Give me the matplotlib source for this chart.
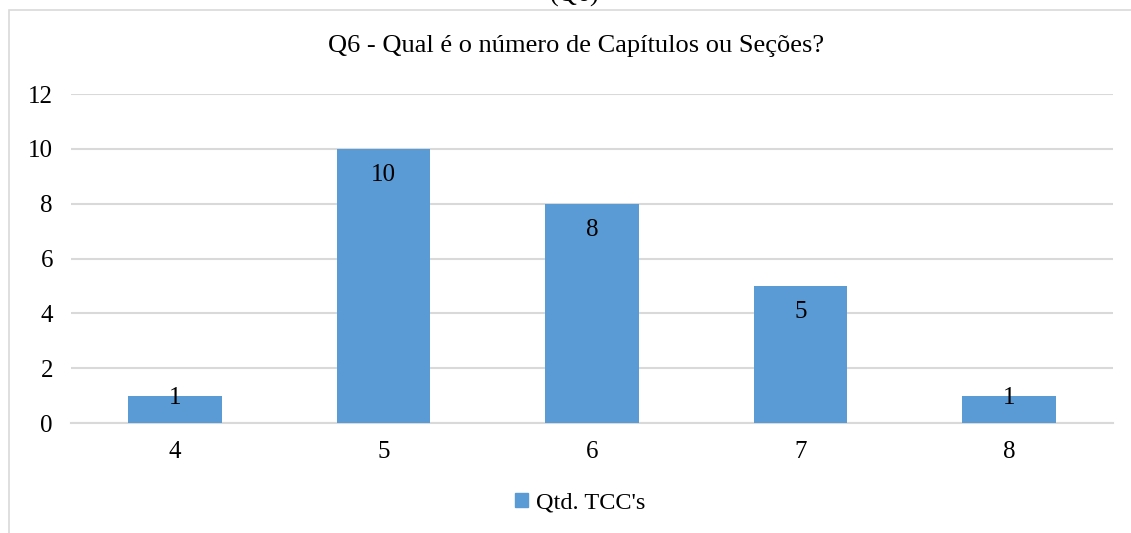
import matplotlib
matplotlib.use('Agg')
import matplotlib.pyplot as plt
from matplotlib.patches import Rectangle

plt.rcParams['font.family'] = ['Liberation Serif', 'DejaVu Serif']

# dados
categorias = ['4', '5', '6', '7', '8']
qtd_tcc = [1, 10, 8, 5, 1]
serie_nome = "Qtd. TCC's"
titulo = 'Q6 - Qual é o número de Capítulos ou Seções?'
yticks = [0, 2, 4, 6, 8, 10, 12]

cor_barra = '#5B9BD5'
cor_grade = '#D9D9D9'

fig = plt.figure(figsize=(11.31, 5.33), dpi=100)

# moldura do gráfico (vai além da borda direita/inferior)
fig.patches.append(Rectangle((9 / 1131, -0.1), 1.2, 1.1 - 10 / 533,
                             transform=fig.transFigure, fill=False,
                             edgecolor=cor_grade, linewidth=1.2))

# texto cortado no topo
fig.text(575 / 1131, 1 + 5 / 533, '(Q6)', ha='center', va='center', fontsize=19)

ax = fig.add_axes([71 / 1131, 110 / 533, 1042 / 1131, 329 / 533])
x = range(len(categorias))
bars = ax.bar(x, qtd_tcc, width=0.45, color=cor_barra, zorder=3)

for b, v in zip(bars, qtd_tcc):
    off = -26 if v > 2 else -2
    ax.annotate(str(v), (b.get_x() + b.get_width() / 2, v), xytext=(0, off),
                textcoords='offset pixels', ha='center', va='center',
                fontsize=18, color='black', zorder=4)

ax.set_xlim(-0.5, len(categorias) - 0.5)
ax.set_ylim(0, 12)
ax.set_yticks(yticks)
ax.set_xticks(list(x))
ax.set_xticklabels(categorias)
ax.yaxis.grid(True, color=cor_grade, linewidth=1.5, zorder=0)
ax.tick_params(axis='both', length=0, labelsize=18)
ax.tick_params(axis='x', pad=13)
ax.tick_params(axis='y', pad=13)
for s in ['top', 'right', 'left']:
    ax.spines[s].set_visible(False)
ax.spines['bottom'].set_color(cor_grade)
ax.spines['bottom'].set_linewidth(1.5)

fig.text(576 / 1131, 1 - 46 / 533, titulo, ha='center', va='center', fontsize=19)

leg = fig.legend([Rectangle((0, 0), 1, 1, color=cor_barra)], [serie_nome],
                 loc='center', bbox_to_anchor=(580 / 1131, 1 - 503 / 533),
                 frameon=False, fontsize=17.5, handlelength=0.55, handleheight=0.55,
                 handletextpad=0.3)

fig.savefig('out.png', dpi=100)
